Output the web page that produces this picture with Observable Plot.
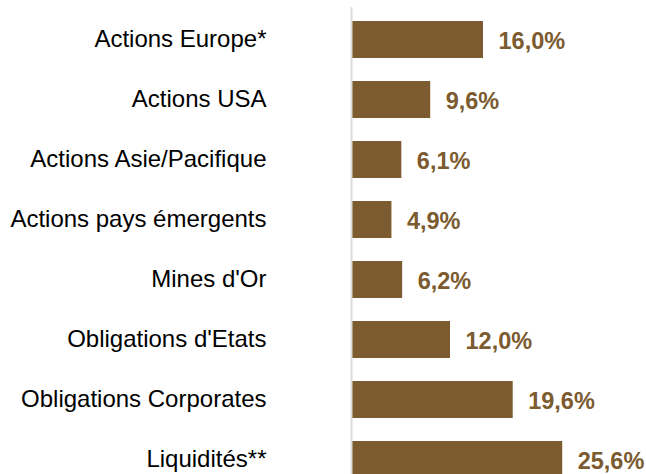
<!DOCTYPE html>
<html><head><meta charset="utf-8">
<script src="https://cdn.jsdelivr.net/npm/d3@7"></script>
<script src="https://cdn.jsdelivr.net/npm/@observablehq/plot@0.6"></script>
<style>body{margin:0;background:#fff}</style>
</head><body><div id="chart"></div>
<script>
const categories = ["Actions Europe*","Actions USA","Actions Asie/Pacifique","Actions pays émergents","Mines d'Or","Obligations d'Etats","Obligations Corporates","Liquidités**"];
const values = [16.0, 9.6, 6.1, 4.9, 6.2, 12.0, 19.6, 25.6];
const labels = ["16,0%","9,6%","6,1%","4,9%","6,2%","12,0%","19,6%","25,6%"];
const data = categories.map((c,i)=>({cat:c, v:values[i], label:labels[i]}));
const color = "#7B5B2F";
const chart = Plot.plot({
  width: 646, height: 474,
  marginLeft: 351, marginRight: 47.5, marginTop: 7, marginBottom: 0,
  style: {fontFamily: "Liberation Sans, Arial, sans-serif", background: "#fff", overflow: "hidden"},
  x: {domain: [0, 30], range: [351, 598.5], axis: null},
  y: {domain: categories, range: [7.5, 491.5], paddingInner: 0.38, paddingOuter: 0.19, label: null},
  marks: [
    Plot.barX(data, {x: "v", y: "cat", fill: color, insetLeft: 1}),
    Plot.ruleX([0], {stroke: "#dedede", strokeWidth: 2}),
    Plot.axisY({tickSize: 0, tickPadding: 85, fontSize: 24, fill: "#000", dy: -1, label: null}),
    Plot.text(data, {x: "v", y: "cat", text: "label", dx: 15, dy: 1, textAnchor: "start", fill: color, fontWeight: "bold", fontSize: 23.5})
  ]
});
document.getElementById("chart").appendChild(chart);
</script>
</body></html>
